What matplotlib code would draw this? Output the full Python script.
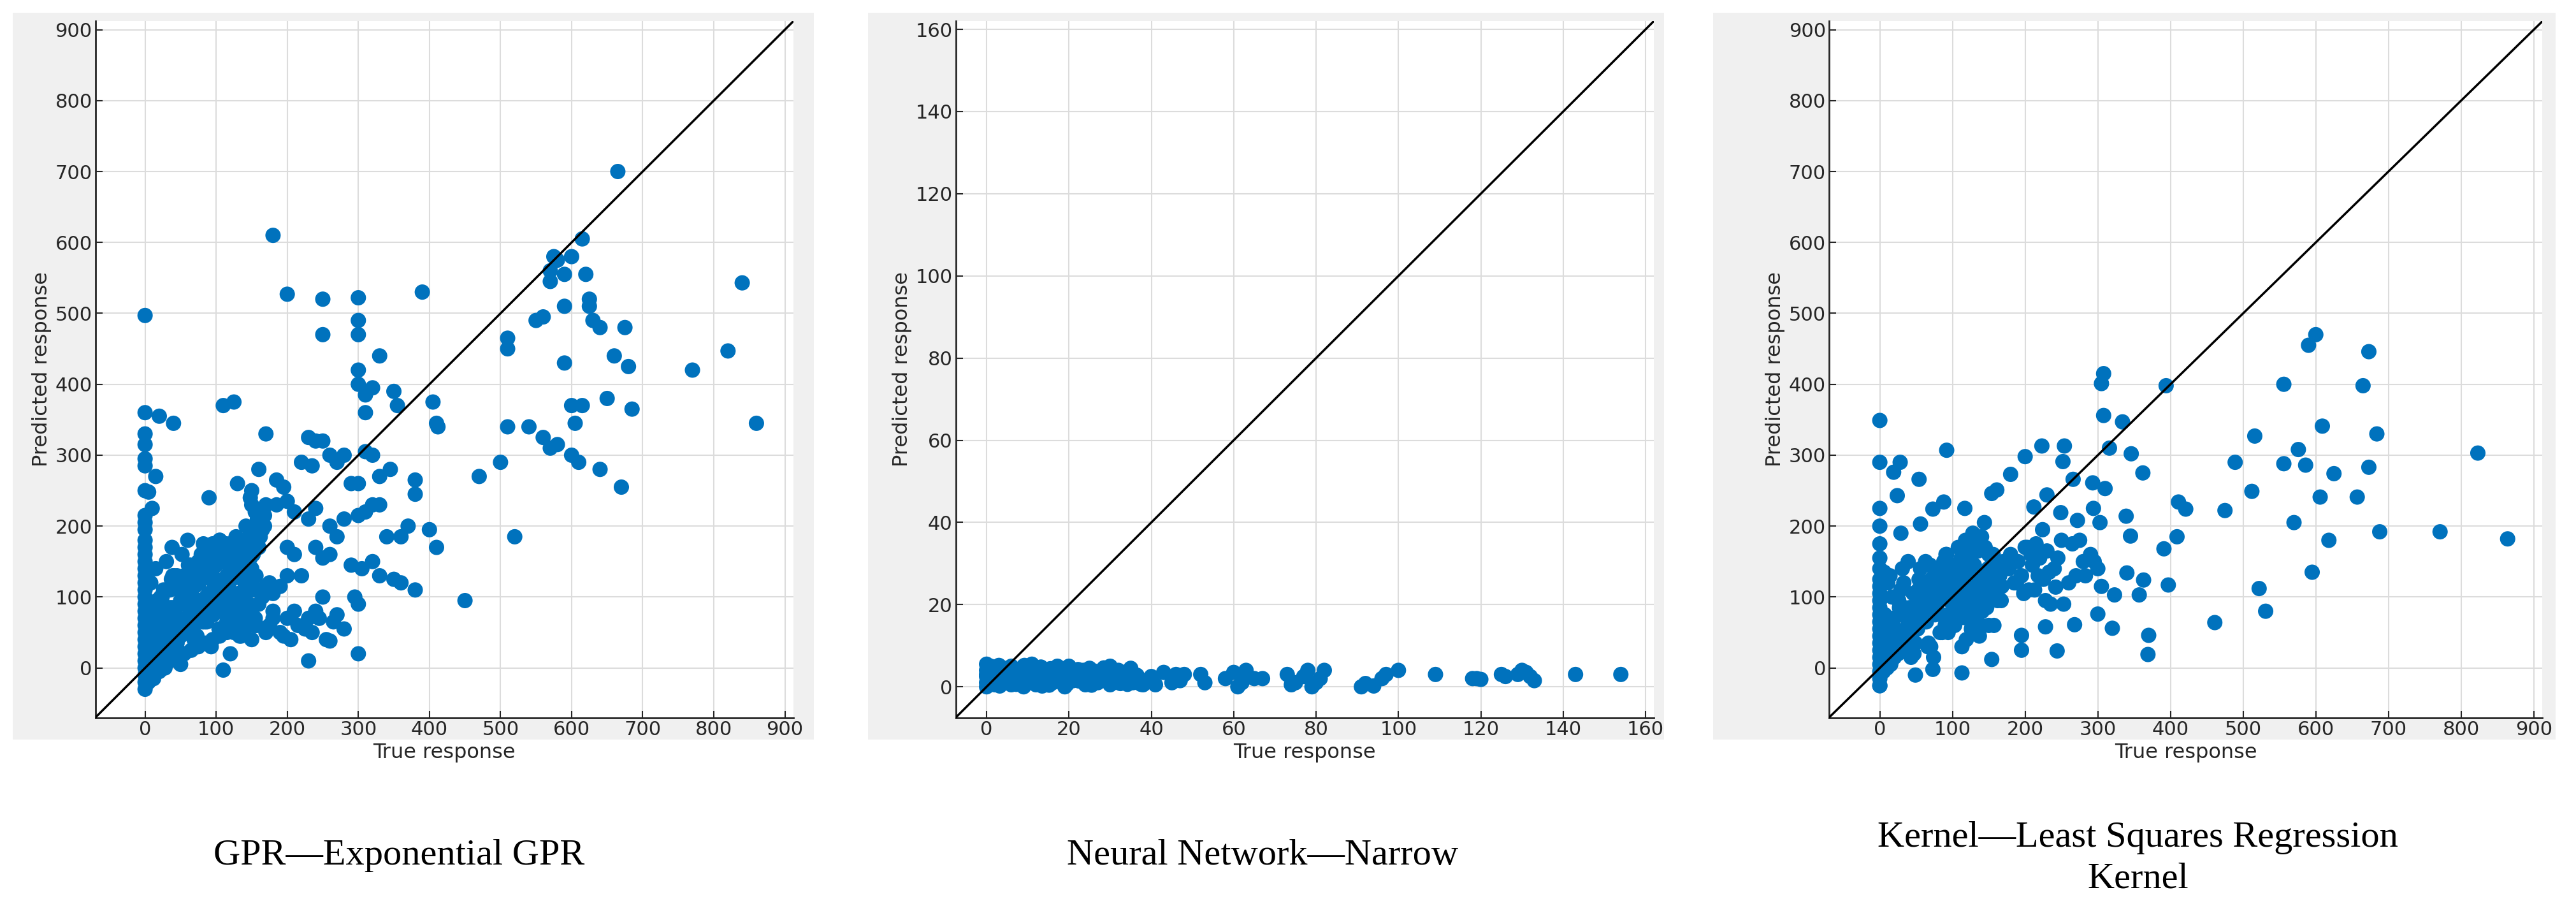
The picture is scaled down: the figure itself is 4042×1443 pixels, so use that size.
import matplotlib
matplotlib.use("Agg")
import matplotlib.pyplot as plt
from matplotlib.patches import Rectangle

# ---------------- data ----------------
# Panel 1: GPR - Exponential GPR
gpr_true = [0,180,200,250,300,250,300,300,330,390,300,300,310,320,350,355,310,405,410,412,0,20,40,110,125,170,0,0,0,0,15,160,230,240,250,0,5,10,90,130,150,185,195,220,235,260,280,270,290,310,320,345,330,300,380,380,400,410,370,360,340,320,310,300,330,280,270,260,260,240,230,210,200,185,240,250,290,305,320,330,350,360,380,450,300,295,250,240,230,210,200,220,200,190,180,170,210,200,120,110,50,230,300,260,180,170,150,
            470,500,510,510,510,520,540,560,570,575,580,570,590,590,590,570,580,600,605,600,615,615,620,625,625,630,640,650,660,665,670,675,680,685,770,820,840,860,550,560,610,640,600,
            0,0,0,0,0,0,0,0,0,0,0,0,0,0,0,0,0,0,0,0,0,0,0,0,0,
            5,8,10,12,15,18,20,22,25,28,30,32,35,38,40,42,45,48,50,55,58,60,62,65,68,70,72,75,78,80,85,88,90,92,95,98,100,102,105,108,110,112,115,118,120,122,125,128,130,132,135,138,140,142,145,148,150,152,155,158,160,162,165,168,170,
            5,10,15,20,25,30,35,40,45,50,55,60,65,70,75,80,85,90,95,100,105,110,115,120,125,130,135,140,145,150,155,160,165,170,175,
            8,15,22,30,38,45,52,60,68,75,82,90,98,105,112,120,128,135,142,150,158,165,
            150,152,155,158,160,155,150,148,160,162,165,168,140,145,135,175,180,190,195,205,215,225,235,245,255,265,270,280,
            5,12,20,28,35,45,55,65,75,85,95,105,115,125,135,145,155,
            3,7,11,16,21,26,31,36,41,47,53,57,63,67,73,77,83,87,93,97,103,107,113,117,123,127,133,137,143,147,153,157,
            2,9,14,19,24,29,34,39,44,49,54,59,64,69,74,79,84,89,94,99,104,109,114,119,124,129,134,139,144,149,
            4,6,13,17,23,27,33,37,43,46,52,56,61,66,71,76,81,86,91,96,101,106,111,116,121,126,131,136,141,146,151,156,161]
gpr_pred = [497,610,527,520,522,470,490,470,440,530,420,400,385,395,390,370,360,375,345,340,360,355,345,370,375,330,330,315,295,285,270,280,325,320,320,250,248,225,240,260,250,265,255,290,285,300,300,290,260,305,300,280,270,260,265,245,195,170,200,185,185,230,220,215,230,210,185,200,160,225,210,220,235,230,170,155,145,140,150,130,125,120,110,95,90,100,100,80,70,80,70,130,130,115,105,115,160,170,20,-3,5,10,20,38,80,50,40,
            270,290,340,450,465,185,340,495,560,580,575,545,555,510,430,310,315,580,345,370,370,605,555,520,510,490,480,380,440,700,255,480,425,365,420,447,543,345,490,325,290,280,300,
            -30,-20,-10,0,10,20,30,40,50,60,70,80,90,100,110,120,130,140,150,160,170,180,195,205,215,
            -10,0,-5,10,5,15,20,10,30,25,35,20,45,30,40,50,35,60,45,55,70,50,65,75,60,80,70,85,75,95,90,100,85,105,95,110,100,120,105,115,125,110,130,120,140,125,150,135,145,130,160,140,170,150,180,155,190,165,200,175,210,185,220,200,230,
            40,60,80,55,90,70,110,85,120,95,130,105,140,115,150,125,160,135,175,145,180,150,65,75,50,60,45,55,70,80,60,90,100,110,120,
            120,140,100,150,170,130,160,180,120,140,175,150,165,180,160,175,185,170,200,190,210,195,
            140,160,180,200,210,220,230,240,170,190,200,215,100,90,80,60,70,50,45,40,60,55,50,70,40,65,75,55,
            -20,-15,-5,0,10,15,20,25,30,35,40,45,50,55,60,65,70,
            25,55,90,15,70,110,40,85,130,60,20,100,75,140,45,95,160,65,30,120,80,150,55,105,170,90,45,125,75,185,110,60,
            10,45,75,35,100,60,25,130,85,50,115,70,145,40,95,160,65,105,135,80,55,120,175,90,140,100,65,155,115,85,
            -5,30,60,95,20,50,80,125,40,70,105,90,145,55,85,120,65,100,135,75,110,150,95,125,60,140,105,170,115,90,160,130,110]

# Panel 2: Neural Network - Narrow
nn_true = [0,0,0,0,0,0,1,1,2,2,3,3,4,4,5,5,6,6,7,7,8,8,9,9,10,10,11,11,12,12,13,14,15,16,17,18,19,20,20,21,22,23,24,25,26,27,28,29,30,30,31,32,33,34,35,36,37,38,
           40,41,43,45,46,47,48,52,53,58,60,61,62,63,65,67,73,74,75,77,78,79,80,81,82,91,92,94,96,97,100,109,118,119,120,125,126,129,130,131,132,133,143,154,
           0.5,1.5,2.5,3.5,4.5,5.5,6.5,7.5,8.5,9.5,10.5,11.5,12.5,13.5,14.5,15.5,16.5,17.5,18.5,19.5,21.5,22.5,23.5,24.5,25.5,26.5,27.5,28.5,29.5,31.5,32.5,33.5,34.5,35.5,36.5,37.5,
           0.3,1.2,2.2,3.2,4.2,5.2,6.2,7.2,8.2,9.2,10.2,11.2,13.2,14.2,15.2,16.2,17.2,18.2,20.2,22.2,24.2,26.2,28.2,30.2,32.2,34.2]
nn_pred = [5.5,4,2.5,1,0,3,5,1.5,4,0.5,3,5.2,2,4.5,1,3.5,5,0.5,2.5,4,1,3,5,0,2,4.5,1.5,5.5,3,0.5,4,2,3.5,1,4.5,2.5,0,5,3,1.5,4,2,0.5,4.5,3,1,3.5,2,5,0.5,2.5,4,1,3,4.5,1.5,2,0.5,
           2.5,0.5,3.5,1,3,1.5,3,3,1,2,3.5,0,1,4,2,2,3,0.5,1,2.5,4,0,1,2,4,0,0.8,0.2,2,3,4,3,2,2,1.8,3,2.5,3,4,3.5,2.5,1.5,3,3,
           2,3.5,0.5,4.8,2,1,3.8,2.5,0.8,3,4.2,1.8,3.2,0.2,2.8,4.4,1.2,3.6,2.2,0.6,3,1.4,4,2.6,0.4,3.4,1.6,4.6,2.4,3.8,0.8,2,3.2,1,2.8,0.6,
           1,2.8,4.6,0.2,3.6,1.8,4,0.6,2.4,5.2,1.2,3.4,4.8,2,0.4,3,5,1.6,2.6,4.2,0.8,3.8,2.2,1.4,3,0.6]

# Panel 3: Kernel - Least Squares Regression Kernel
ker_true = [595,522,531,461,688,771,864,823,673,665,684,673,657,625,609,606,618,576,586,556,556,516,512,489,475,570,409,391,397,370,369,357,363,345,339,362,346,316,334,308,308,305,394,411,421,244,113,73,49,0,0,0,28,19,54,24,92,223,254,252,200,180,230,266,293,310,294,212,117,88,73,56,29,144,154,161,224,249,272,275,303,340,323,320,300,268,228,195,195,154,235,242,590,600,
            0,0,0,0,0,0,0,0,0,0,0,0,0,0,0,0,0,0,0,0,0,
            5,8,10,12,15,18,20,22,25,28,30,32,35,38,40,42,45,48,50,55,58,60,62,65,68,70,72,75,78,80,85,88,90,92,95,98,100,102,105,108,110,112,115,118,120,122,125,128,130,132,135,138,140,142,145,148,150,152,155,158,160,162,165,168,170,
            175,180,185,190,195,200,205,210,215,220,225,230,240,250,260,270,280,290,300,
            10,20,30,40,50,60,70,80,90,100,110,120,130,140,150,
            3,7,11,16,21,26,31,36,41,47,53,57,63,67,73,77,83,87,93,97,103,107,113,117,123,127,133,137,143,147,153,157,163,167,
            2,9,14,19,24,29,34,39,44,49,54,59,64,69,74,79,84,89,94,99,104,109,114,119,124,129,134,139,144,149,183,203,213,233,253,283,
            4,6,13,17,23,27,33,37,43,46,52,56,61,66,71,76,81,86,91,96,101,106,111,116,121,126,131,136,141,146,151,156,161,178,188,198,208,218,228,245,265,295,305]
ker_pred = [135,112,80,64,192,192,182,303,446,398,330,283,241,274,341,241,180,308,286,400,288,327,249,290,222,205,185,168,117,46,19,103,124,186,214,275,302,310,347,356,415,401,398,234,224,24,-7,-2,-10,-25,349,290,290,276,266,243,307,313,313,291,298,273,244,266,261,253,225,227,225,234,224,203,190,205,246,251,195,219,208,180,205,134,103,56,76,61,58,25,46,12,90,114,455,470,
             -25,-15,-5,5,15,25,35,45,55,65,75,85,95,105,115,125,140,155,175,200,225,
             -5,10,0,20,5,25,15,35,20,40,30,50,25,60,45,70,35,80,55,90,65,100,70,110,80,120,95,130,85,140,100,150,110,160,120,135,105,145,115,170,125,155,130,180,140,160,150,190,145,175,165,120,185,135,170,110,160,125,150,105,140,95,130,115,150,
             140,160,120,150,130,170,110,145,175,155,125,165,140,180,120,130,150,160,140,
             60,50,80,40,90,70,30,100,60,80,110,70,90,120,60,
             30,75,120,10,55,95,140,40,85,20,110,65,150,35,90,125,50,100,75,140,60,115,30,95,160,70,125,45,105,85,140,60,120,95,
             100,45,130,70,20,110,85,150,55,35,125,90,65,145,15,105,75,130,50,95,120,70,155,40,110,85,130,60,100,140,150,170,110,135,90,130,
             5,135,60,100,40,85,120,70,15,105,55,140,90,30,125,75,110,50,160,95,65,130,85,145,115,55,100,135,80,125,95,160,110,140,120,105,160,130,95,155,175,150,115]

# ---------------- plotting ----------------
W, H = 40.42, 14.43
fig = plt.figure(figsize=(W, H), dpi=100)
fig.patch.set_facecolor("white")

blue = "#0072BD"
panels = [
    dict(x=gpr_true, y=gpr_pred, lim=(-70, 912), ticks=range(0, 901, 100),
         ax=[0.037, 0.220, 0.271, 0.757], box=[0.005, 0.196, 0.311, 0.790],
         cap="GPR\u2014Exponential GPR", capx=0.155, capy=0.07),
    dict(x=nn_true, y=nn_pred, lim=(-7.5, 162), ticks=range(0, 161, 20),
         ax=[0.371, 0.220, 0.271, 0.757], box=[0.337, 0.196, 0.309, 0.790],
         cap="Neural Network\u2014Narrow", capx=0.49, capy=0.07),
    dict(x=ker_true, y=ker_pred, lim=(-70, 912), ticks=range(0, 901, 100),
         ax=[0.710, 0.220, 0.277, 0.757], box=[0.665, 0.196, 0.327, 0.790],
         cap="Kernel\u2014Least Squares Regression\nKernel", capx=0.83, capy=0.067),
]

for p in panels:
    fig.add_artist(Rectangle((p["box"][0], p["box"][1]), p["box"][2], p["box"][3],
                             transform=fig.transFigure, facecolor="#f0f0f0",
                             edgecolor="none", zorder=0))
    ax = fig.add_axes(p["ax"])
    ax.set_facecolor("white")
    lo, hi = p["lim"]
    ax.set_xlim(lo, hi)
    ax.set_ylim(lo, hi)
    ax.grid(True, color="#dcdcdc", linewidth=1.5)
    ax.set_axisbelow(True)
    ax.scatter(p["x"], p["y"], s=300, color=blue, edgecolors="none", zorder=2)
    ax.plot([lo, hi], [lo, hi], color="black", linewidth=2.5, zorder=3)
    ax.set_xticks(list(p["ticks"]))
    ax.set_yticks(list(p["ticks"]))
    ax.tick_params(labelsize=22, colors="#262626", length=8, width=1.5, direction="in")
    for s in ["top", "right"]:
        ax.spines[s].set_visible(False)
    for s in ["left", "bottom"]:
        ax.spines[s].set_linewidth(2)
        ax.spines[s].set_color("#262626")
    ax.set_xlabel("True response", fontsize=23, color="#262626", labelpad=4)
    ax.set_ylabel("Predicted response", fontsize=23, color="#262626", labelpad=4)
    fig.text(p["capx"], p["capy"], p["cap"],
             ha="center", va="center", fontsize=42, family="Liberation Serif",
             linespacing=1.3)

fig.savefig("out.png", dpi=100, facecolor="white")
